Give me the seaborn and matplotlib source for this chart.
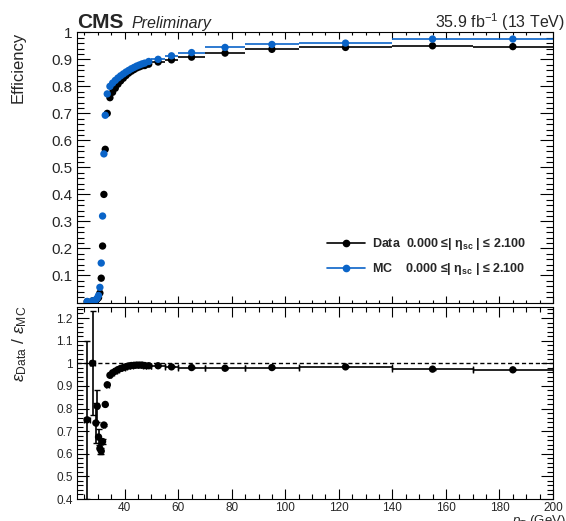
import numpy as np
import pandas as pd
import matplotlib
matplotlib.use("Agg")
import matplotlib.pyplot as plt
import seaborn as sns
from matplotlib.lines import Line2D
from matplotlib.ticker import MultipleLocator, FuncFormatter

# ---------------- data ----------------
pt_center = [26, 28, 29.25, 29.75, 30.25, 30.75, 31.25, 31.75, 32.25, 32.75,
             33.5, 34.5, 35.5, 36.5, 37.5, 38.5, 39.5, 40.5, 41.5, 42.5, 43.5,
             44.5, 45.5, 46.5, 47.5, 49, 52.5, 57.5, 65, 77.5, 95, 122.5, 155, 185]
pt_halfwidth = [1, 1, 0.25, 0.25, 0.25, 0.25, 0.25, 0.25, 0.25, 0.25,
                0.5, 0.5, 0.5, 0.5, 0.5, 0.5, 0.5, 0.5, 0.5, 0.5, 0.5,
                0.5, 0.5, 0.5, 0.5, 1, 2.5, 2.5, 5, 7.5, 10, 17.5, 15, 15]
eff_mc = [0.004, 0.006, 0.010, 0.016, 0.026, 0.056, 0.146, 0.320, 0.550, 0.693,
          0.772, 0.800, 0.812, 0.822, 0.831, 0.839, 0.846, 0.853, 0.859, 0.865, 0.870,
          0.875, 0.879, 0.883, 0.886, 0.892, 0.900, 0.913, 0.925, 0.944, 0.955, 0.960, 0.975, 0.975]
eff_data = [0.003, 0.006, 0.0074, 0.013, 0.018, 0.035, 0.090, 0.209, 0.400, 0.567,
            0.700, 0.758, 0.778, 0.793, 0.808, 0.820, 0.830, 0.840, 0.849, 0.856, 0.862,
            0.868, 0.872, 0.876, 0.877, 0.882, 0.890, 0.898, 0.908, 0.923, 0.937, 0.944, 0.950, 0.947]
ratio_vals = [0.75, 1.00, 0.736, 0.81, 0.674, 0.623, 0.612, 0.654, 0.727, 0.818,
              0.905, 0.947, 0.958, 0.965, 0.972, 0.977, 0.981, 0.985, 0.988, 0.990, 0.991,
              0.992, 0.992, 0.992, 0.990, 0.989, 0.989, 0.984, 0.981, 0.978, 0.981, 0.984, 0.974, 0.971]
ratio_err = [0.35, 0.23, 0.09, 0.07, 0.035, 0.025, 0.015, 0.01, 0.006, 0.004,
             0.003, 0.002, 0.002, 0.002, 0.002, 0.002, 0.002, 0.002, 0.002, 0.002, 0.002,
             0.002, 0.002, 0.002, 0.002, 0.002, 0.002, 0.002, 0.002, 0.002, 0.002, 0.002, 0.002, 0.002]

legend_data = "Data  0.000 \u2264| \u03b7$_{\\mathbf{sc}}$ | \u2264 2.100"
legend_mc = "MC    0.000 \u2264| \u03b7$_{\\mathbf{sc}}$ | \u2264 2.100"

df = pd.DataFrame({"pt": pt_center, "hw": pt_halfwidth, "data": eff_data,
                   "mc": eff_mc, "ratio": ratio_vals, "rerr": ratio_err})

BLUE = "#0a64c8"

sns.set_style("ticks")
plt.rcParams["font.family"] = ["Liberation Sans", "DejaVu Sans"]
plt.rcParams["mathtext.fontset"] = "custom"
plt.rcParams["mathtext.rm"] = "Liberation Sans"
plt.rcParams["mathtext.it"] = "Liberation Sans:italic"
plt.rcParams["mathtext.bf"] = "Liberation Sans:bold"

W, H = 566, 521
fig = plt.figure(figsize=(W / 100, H / 100), dpi=100)
L, R = 77, 553
ax1 = fig.add_axes([L / W, 1 - 302.5 / H, (R - L) / W, (302.5 - 32.3) / H])
ax2 = fig.add_axes([L / W, 1 - 499 / H, (R - L) / W, (499 - 306.7) / H])

# ---------------- top panel ----------------
ax1.errorbar(df.pt, df.data, xerr=df.hw, fmt="none", ecolor="black", elinewidth=1.2)
ax1.errorbar(df.pt, df.mc, xerr=df.hw, fmt="none", ecolor=BLUE, elinewidth=1.2)
sns.scatterplot(data=df, x="pt", y="data", ax=ax1, color="black", s=28,
                edgecolor="none", zorder=3)
sns.scatterplot(data=df, x="pt", y="mc", ax=ax1, color=BLUE, s=28,
                edgecolor="none", zorder=4)
ax1.set_xlim(22.2, 200)
ax1.set_ylim(0, 1)
ax1.set_xlabel("")
ax1.set_ylabel("")
ax1.set_xticklabels([])

handles = [Line2D([], [], color="black", marker="o", markersize=4.5, lw=1.2),
           Line2D([], [], color=BLUE, marker="o", markersize=4.5, lw=1.2)]
ax1.legend(handles, [legend_data, legend_mc], loc="center left",
           bbox_to_anchor=(0.526, 0.17), frameon=False, borderaxespad=0, borderpad=0,
           prop={"weight": "bold", "size": 9}, handlelength=3.0, handletextpad=0.6,
           labelspacing=0.75)

# ---------------- ratio panel ----------------
ax2.axhline(1.0, color="black", ls=(0, (3, 2)), lw=1.0, zorder=1)
ax2.errorbar(df.pt, df.ratio, xerr=df.hw, yerr=df.rerr, fmt="none", ecolor="black",
             elinewidth=1.2, capsize=2)
sns.scatterplot(data=df, x="pt", y="ratio", ax=ax2, color="black", s=28,
                edgecolor="none", zorder=3)
ax2.set_xlim(22.2, 200)
ax2.set_ylim(0.4, 1.25)
ax2.set_xlabel("")
ax2.set_ylabel("")

fmt = FuncFormatter(lambda v, p: "" if abs(v) < 1e-9 else ("%g" % round(v, 2)))
for ax in (ax1, ax2):
    ax.xaxis.set_major_locator(MultipleLocator(20))
    ax.xaxis.set_minor_locator(MultipleLocator(5))
    ax.yaxis.set_major_locator(MultipleLocator(0.1))
    ax.yaxis.set_minor_locator(MultipleLocator(0.02))
    ax.yaxis.set_major_formatter(fmt)
    for s in ax.spines.values():
        s.set_linewidth(0.8)
        s.set_color("black")
    ax.tick_params(which="both", direction="in", top=True, right=True, width=0.8,
                   color="black")

ax1.tick_params(axis="y", which="major", length=9.4, labelsize=11, pad=3)
ax1.tick_params(axis="y", which="minor", length=4.7)
ax1.tick_params(axis="x", which="major", length=5)
ax1.tick_params(axis="x", which="minor", length=2.5)
ax2.tick_params(axis="y", which="major", length=8.5, labelsize=8.5, pad=3)
ax2.tick_params(axis="y", which="minor", length=4.3)
ax2.tick_params(axis="x", which="major", length=7, labelsize=8.5, pad=2)
ax2.tick_params(axis="x", which="minor", length=3.6)

# ---------------- text ----------------
fig.text(L / W, 1 - 28 / H, "CMS", fontsize=15, fontweight="bold", ha="left", va="baseline")
fig.text((L + 55) / W, 1 - 28 / H, "Preliminary", fontsize=11.5, fontstyle="italic",
         ha="left", va="baseline")
fig.text(565 / W, 1 - 28 / H, "35.9 fb$^{-1}$ (13 TeV)", fontsize=11.5, ha="right",
         va="baseline")
fig.text(18 / W, 1 - 32 / H, "Efficiency", fontsize=12, rotation=90, ha="center", va="top")
fig.text(20 / W, 1 - 306 / H, "$\\epsilon_{\\mathrm{Data}}$ / $\\epsilon_{\\mathrm{MC}}$",
         fontsize=12.5, rotation=90, ha="center", va="top")
fig.text(512 / W, 1 - 513 / H, "$p_{\\mathrm{T}}$ (GeV)", fontsize=9.5, ha="left",
         va="top")

fig.savefig("out.png", dpi=100)
